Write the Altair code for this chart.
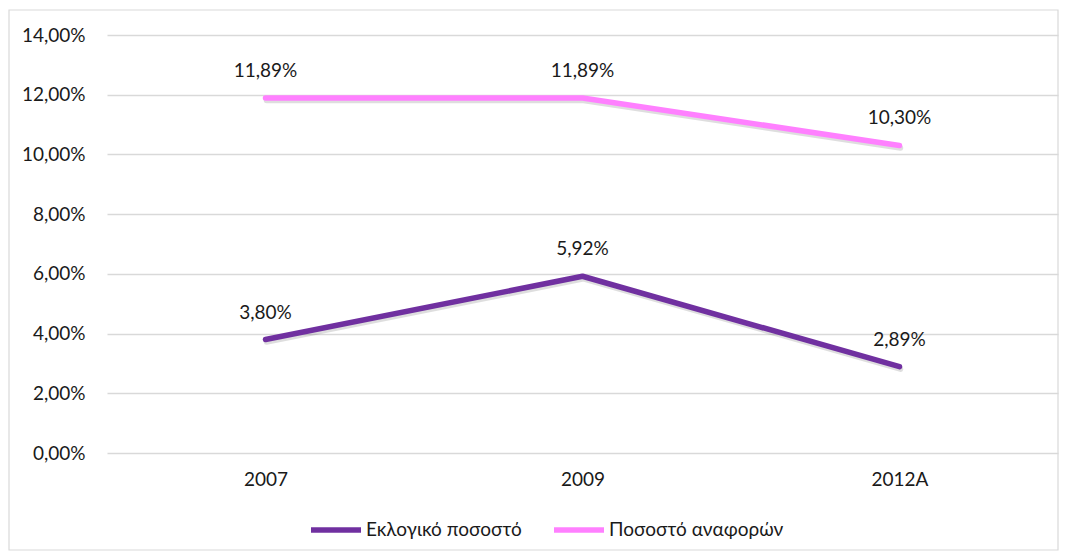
import altair as alt
import pandas as pd

years = ["2007", "2009", "2012A"]
series_names = ["Εκλογικό ποσοστό", "Ποσοστό αναφορών"]
electoral = [3.80, 5.92, 2.89]
reports = [11.89, 11.89, 10.30]
colors = ["#7030A0", "#FF80FF"]

rows = []
for name, vals in zip(series_names, [electoral, reports]):
    for y, v in zip(years, vals):
        rows.append({"year": y, "series": name, "value": v,
                     "label": f"{v:.2f}%".replace(".", ",")})
df = pd.DataFrame(rows)

FONT = "Lato"
FS = 19
TXT = "#1a1a1a"
W, H = 951, 418

x = alt.X("year:N", sort=years, title=None,
          scale=alt.Scale(paddingInner=0, paddingOuter=0, align=0.5),
          axis=alt.Axis(labelAngle=0, labelFontSize=FS, labelFont=FONT, labelColor=TXT,
                        labelPadding=17, domain=False, ticks=False, grid=False))
y = alt.Y("value:Q", title=None,
          scale=alt.Scale(domain=[0, 14], nice=False),
          axis=alt.Axis(values=[0, 2, 4, 6, 8, 10, 12, 14], labelFontSize=FS, labelFont=FONT,
                        labelColor=TXT, labelPadding=22, domain=False, ticks=False,
                        gridColor="#D9D9D9", gridWidth=1.3,
                        labelExpr="replace(format(datum.value, '.2f'), '.', ',') + '%'"))

color = alt.Color("series:N", sort=series_names, title=None,
                  scale=alt.Scale(domain=series_names, range=colors),
                  legend=alt.Legend(orient="none", direction="horizontal", legendX=201, legendY=467,
                                    symbolType="stroke", symbolSize=2500, symbolStrokeWidth=5.5,
                                    labelFontSize=FS, labelFont=FONT, labelColor=TXT,
                                    labelLimit=400, labelOffset=2, columnPadding=21))

base = alt.Chart(df)

border = alt.Chart(pd.DataFrame({"a": [0]})).mark_rect(
    fill=None, fillOpacity=0, stroke="#D9D9D9", strokeWidth=1.2
).encode(x=alt.value(-98), x2=alt.value(951), y=alt.value(-25), y2=alt.value(515))

shadow = base.mark_line(strokeWidth=5.5, color="#000000", opacity=0.13, xOffset=1, yOffset=2.5,
                        strokeCap="round", strokeJoin="round").encode(
    x=x, y=y, detail="series:N")

lines = base.mark_line(strokeWidth=5.5, strokeCap="round", strokeJoin="round").encode(
    x=x, y=y, color=color)

labels = base.mark_text(fontSize=FS, font=FONT, color=TXT, dy=-27, baseline="middle").encode(
    x=x, y=y, text="label:N")

chart = alt.layer(border, shadow, lines, labels).properties(
    width=W, height=H,
    padding={"left": 99, "top": 27, "right": 3, "bottom": 100},
    autosize=alt.AutoSizeParams(type="none"),
).configure(background="white").configure_view(strokeWidth=0, stroke="transparent")

chart.save("out.html", embed_options={"renderer": "svg", "actions": False})
